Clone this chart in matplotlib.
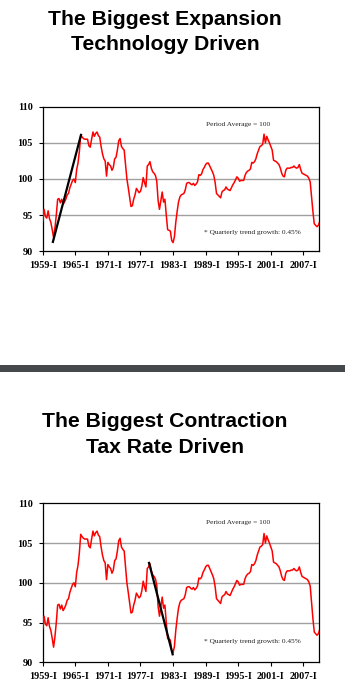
import numpy as np
import matplotlib
matplotlib.use("Agg")
import matplotlib.pyplot as plt
from matplotlib.patches import Rectangle

# index, period average = 100, quarterly from 1959-I
index_values = [
    94.2, 95.8, 94.8, 94.6, 95.6, 94.5, 94.0, 93.0, 91.9, 93.2,
    95.0, 97.2, 97.3, 96.7, 97.2, 96.5, 96.8, 97.2, 97.8, 98.0,
    98.8, 99.3, 99.8, 100.0, 99.5, 101.3, 102.2, 103.8, 106.1, 105.8,
    105.6, 105.5, 105.5, 105.5, 104.6, 104.4, 105.5, 106.5, 105.9, 106.3,
    106.5, 106.0, 105.8, 104.5, 103.5, 102.8, 102.5, 100.4, 102.3, 102.0,
    101.8, 101.2, 101.6, 102.8, 103.0, 104.0, 105.3, 105.6, 104.5, 104.2,
    104.0, 102.0, 100.0, 98.8, 97.5, 96.2, 96.3, 97.2, 97.8, 98.7,
    98.4, 98.1, 98.3, 99.0, 100.2, 99.5, 98.9, 101.8, 102.0, 102.4,
    101.5, 101.0, 100.8, 100.5, 99.7, 97.0, 95.8, 97.0, 98.2, 96.8,
    97.2, 95.0, 93.0, 92.9, 92.8, 91.5, 91.2, 92.0, 94.0, 95.5,
    96.8, 97.5, 97.8, 97.9, 98.0, 98.5, 99.4, 99.5, 99.5, 99.3,
    99.2, 99.4, 99.1, 99.3, 99.6, 100.6, 100.5, 100.7, 101.3, 101.6,
    102.0, 102.2, 102.2, 101.8, 101.4, 101.0, 100.5, 99.5, 98.0, 97.8,
    97.6, 97.4, 98.2, 98.4, 98.5, 98.9, 98.6, 98.5, 98.4, 98.8,
    99.2, 99.5, 99.9, 100.3, 100.1, 99.7, 99.8, 99.8, 99.8, 100.5,
    100.9, 101.1, 101.2, 101.4, 102.3, 102.2, 102.4, 102.8, 103.5, 104.0,
    104.5, 104.6, 104.8, 106.2, 105.0, 105.9, 105.4, 105.0, 104.5, 104.0,
    102.6, 102.5, 102.4, 102.2, 102.0, 101.5, 100.8, 100.4, 100.3, 101.2,
    101.5, 101.5, 101.5, 101.6, 101.6, 101.8, 101.6, 101.5, 101.6, 102.0,
    101.3, 100.8, 100.7, 100.6, 100.5, 100.4, 100.1, 99.6, 97.5, 95.5,
    93.8, 93.6, 93.4, 93.6, 94.1,
]

tick_labels = ["1959-I", "1965-I", "1971-I", "1977-I", "1983-I",
               "1989-I", "1995-I", "2001-I", "2007-I"]

# trend segments (quarter index, value)
expansion_q = [7.5, 28.2]
expansion_v = [91.3, 106.1]
contraction_q = [78.3, 95.7]
contraction_v = [102.5, 91.0]

titles_top = ["The Biggest Expansion", "Technology Driven"]
titles_bottom = ["The Biggest Contraction", "Tax Rate Driven"]

SERIF = "Liberation Serif"
SANS = "Liberation Sans"


def draw_panel(ax, seg_q, seg_v):
    x = np.arange(len(index_values))
    for g in [95, 100, 105]:
        ax.axhline(g, color="#a0a0a0", linewidth=1.0, zorder=1)
    ax.plot(x, index_values, color="red", linewidth=1.1, zorder=3)
    ax.plot(seg_q, seg_v, color="black", linewidth=1.6, zorder=4)

    ax.set_xlim(0, 203.5)
    ax.set_ylim(90, 110)
    ax.set_xticks(np.arange(0, 24 * len(tick_labels), 24))
    ax.set_xticklabels(tick_labels)
    ax.set_yticks([90, 95, 100, 105, 110])
    for lab in ax.get_xticklabels() + ax.get_yticklabels():
        lab.set_fontfamily(SERIF)
        lab.set_fontweight("bold")
        lab.set_fontsize(7.3)
    ax.tick_params(axis="x", length=3, width=0.8, pad=4)
    ax.tick_params(axis="y", length=3, width=0.8, pad=4)
    for s in ax.spines.values():
        s.set_linewidth(0.9)
        s.set_color("black")

    ax.text(144, 107.6, "Period Average = 100", fontsize=5.3,
            family=SERIF, ha="center", va="center", color="#222222")
    ax.text(118.5, 92.6, "* Quarterly trend growth: 0.45%", fontsize=5.3,
            family=SERIF, ha="left", va="center", color="#222222")


fig = plt.figure(figsize=(3.45, 6.87), dpi=100)

ax1 = fig.add_axes([0.1238, 0.6342, 0.8009, 0.2105])
draw_panel(ax1, expansion_q, expansion_v)

ax2 = fig.add_axes([0.1238, 0.0360, 0.8009, 0.2314])
draw_panel(ax2, contraction_q, contraction_v)

# titles
fig.text(0.478, 0.971, titles_top[0], family=SANS, fontweight="bold",
         fontsize=15.2, ha="center", va="center")
fig.text(0.478, 0.9345, titles_top[1], family=SANS, fontweight="bold",
         fontsize=15.2, ha="center", va="center")
fig.text(0.478, 0.386, titles_bottom[0], family=SANS, fontweight="bold",
         fontsize=15.2, ha="center", va="center")
fig.text(0.478, 0.348, titles_bottom[1], family=SANS, fontweight="bold",
         fontsize=15.2, ha="center", va="center")

# separator bar
fig.patches.append(Rectangle((0, 0.459), 1, 0.0097, transform=fig.transFigure,
                             facecolor="#46494c", edgecolor="none"))

fig.savefig("out.png", dpi=100)
